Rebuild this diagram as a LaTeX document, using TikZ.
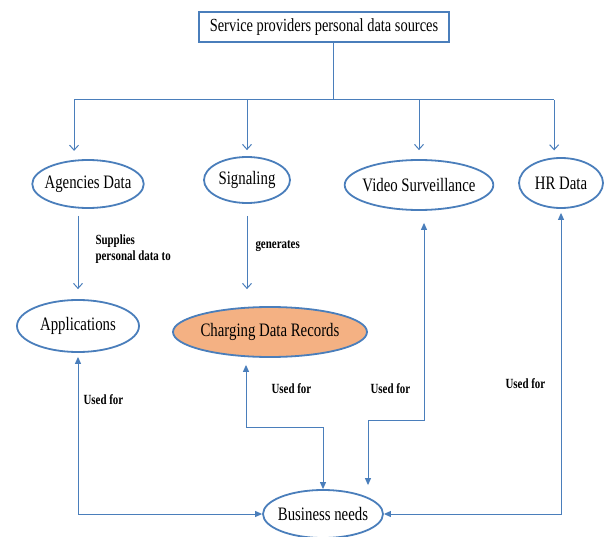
\documentclass[tikz,border=0pt]{standalone}
\usepackage{fontspec}
\setmainfont{Liberation Serif}[FakeStretch=0.78]
\usetikzlibrary{shapes.geometric,arrows.meta}

\definecolor{lineblue}{RGB}{74,126,187}
\definecolor{cdrorange}{RGB}{244,177,131}

\begin{document}
\begin{tikzpicture}[x=1pt,y=-1pt,
    oval/.style={ellipse,draw=lineblue,line width=1.8pt,inner xsep=-4pt,inner ysep=0pt,
      font=\fontsize{19}{21}\selectfont},
    drop/.style={lineblue,line width=1pt,-{Straight Barb[length=5pt,width=9pt]}},
    link/.style={lineblue,line width=1pt,
      {Triangle[length=7pt,width=6pt]}-{Triangle[length=7pt,width=6pt]}},
    lbl/.style={font=\fontsize{14}{16}\selectfont\bfseries,align=left}]

    % Page frame
    \useasboundingbox (0,0) rectangle (604,537);

    % Source box
    \node[draw=lineblue,line width=2pt,minimum width=250pt,minimum height=30pt,
      font=\fontsize{18.5}{20}\selectfont] (src) at (324,27)
      {Service providers personal data sources};

    % Data sources
    \node[oval,minimum width=110pt,minimum height=48pt] (agencies) at (88,184) {Agencies Data};
    \node[oval,minimum width=86pt,minimum height=46pt] (signaling) at (247,180) {Signaling};
    \node[oval,minimum width=148pt,minimum height=50pt] (video) at (419,185) {Video Surveillance};
    \node[oval,minimum width=84pt,minimum height=50pt] (hr) at (561,183) {HR Data};

    % Second row
    \node[oval,minimum width=122pt,minimum height=52pt] (apps) at (78,326) {Applications};
    \node[oval,fill=cdrorange,minimum width=194pt,minimum height=50pt] (cdr) at (270,332)
      {Charging Data Records};

    % Business needs
    \node[oval,minimum width=120pt,minimum height=48pt] (business) at (323,514) {Business needs};

    % Distribution line from the source box
    \coordinate (bus) at (333,100);
    \draw[lineblue,line width=1pt] (src.south -| bus) -- (bus);
    \draw[lineblue,line width=1pt] (agencies.120 |- bus) -- (hr.105 |- bus);

    % Drops to the sources
    \draw[drop,shorten >=9pt] (agencies.120 |- bus) -- (agencies.120);
    \draw[drop,shorten >=6pt] (signaling.north |- bus) -- (signaling.north);
    \draw[drop,shorten >=9pt] (video.north |- bus) -- (video.north);
    \draw[drop,shorten >=7pt] (hr.105 |- bus) -- (hr.105);

    % Agencies Data to Applications
    \draw[drop,shorten <=7pt,shorten >=10pt] (agencies.south -| apps.north) -- (apps.north);
    \node[lbl,anchor=north west] (supplies) at (92,231) {Supplies\\personal data to};

    % Signaling to Charging Data Records
    \draw[drop,shorten <=12pt,shorten >=17pt] (signaling.south) -- (signaling.south |- cdr.north);
    \node[lbl,anchor=base west] (generates) at (252,248) {generates};

    % Links to business needs
    \draw[link,shorten <=4pt] (apps.south) |- (business.west);
    \node[lbl,anchor=base west] (usedapps) at (80,404) {Used for};

    \draw[link,shorten <=7pt] ([xshift=-24pt]cdr.south) -- ++(0,70) -| (business.north);
    \node[lbl,anchor=base west] (usedcdr) at (268,393) {Used for};

    \draw[link,shorten <=12pt,shorten >=4pt] ([xshift=5pt]video.south) -- ++(0,210)
      -| ([xshift=45pt]business.north);
    \node[lbl,anchor=base west] (usedvideo) at (367,393) {Used for};

    \draw[link,shorten <=4pt] (hr.south) |- (business.east);
    \node[lbl,anchor=base west] (usedhr) at (502,388) {Used for};
\end{tikzpicture}
\end{document}
